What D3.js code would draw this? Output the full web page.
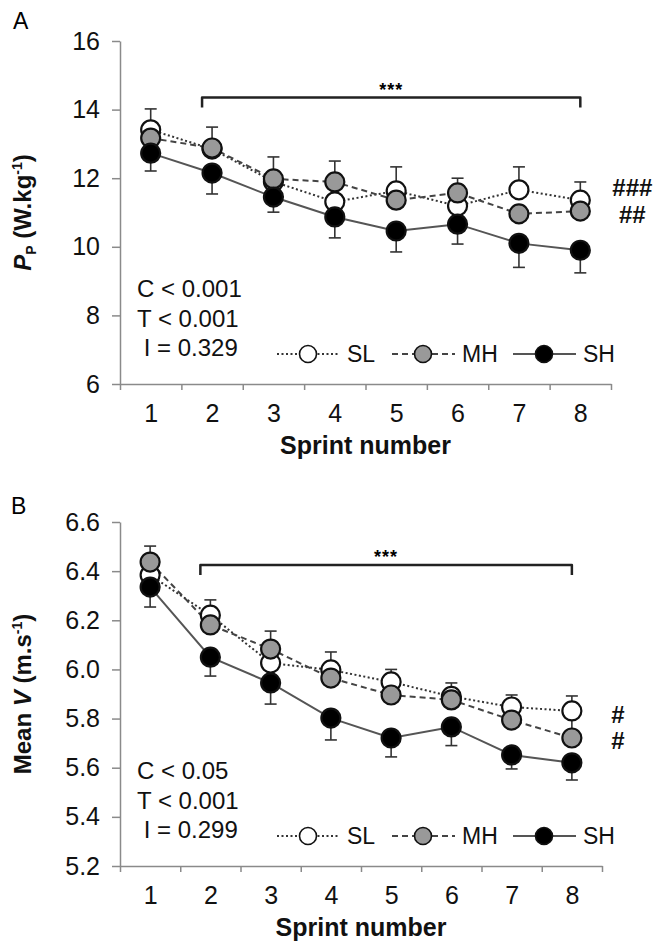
<!DOCTYPE html>
<html>
<head>
<meta charset="utf-8">
<script src="https://cdn.jsdelivr.net/npm/d3@7"></script>
<style>
body { margin: 0; background: #fff; }
svg { display: block; font-family: "Liberation Sans", Arial, sans-serif; }
</style>
</head>
<body>
<svg id="chart" width="666" height="945"></svg>
<script>
/*********************** DATA ***********************/

var sprints = [1, 2, 3, 4, 5, 6, 7, 8];
var seriesNames = ["SL", "MH", "SH"];

// panel A : peak power (W.kg-1)
var ppSL = [13.41, 12.85, 11.90, 11.31, 11.63, 11.19, 11.66, 11.36];
var ppMH = [13.17, 12.88, 11.98, 11.89, 11.36, 11.57, 10.96, 11.04];
var ppSH = [12.73, 12.15, 11.45, 10.87, 10.46, 10.66, 10.10, 9.90];
// visible SD bars (null = hidden behind a marker)
var ppSLup = [0.61, null, null, null, 0.70, null, 0.67, 0.53];
var ppMHup = [null, 0.61, 0.64, 0.61, null, 0.43, null, null];
var ppSHdown = [0.52, 0.61, 0.44, 0.61, 0.61, 0.58, 0.70, 0.66];
var ppTicks = [6, 8, 10, 12, 14, 16];
var ppStats = ["C < 0.001", "T < 0.001", "\u00a0I = 0.329"];
var ppSig = [{ text: "###", value: 11.74 }, { text: "##", value: 10.96 }];

// panel B : mean velocity (m.s-1)
var mvSL = [6.384, 6.221, 6.026, 5.998, 5.949, 5.890, 5.847, 5.831];
var mvMH = [6.437, 6.181, 6.083, 5.965, 5.896, 5.876, 5.794, 5.721];
var mvSH = [6.335, 6.050, 5.945, 5.802, 5.721, 5.766, 5.652, 5.620];
var mvSLup = [null, 0.062, null, 0.073, 0.051, 0.055, 0.049, 0.061];
var mvMHup = [0.065, null, 0.073, null, null, null, null, 0.11];
var mvSHdown = [0.081, 0.077, 0.086, 0.089, 0.077, 0.076, 0.057, 0.070];
var mvTicks = [5.2, 5.4, 5.6, 5.8, 6.0, 6.2, 6.4, 6.6];
var mvStats = ["C < 0.05", "T < 0.001", "\u00a0I = 0.299"];
var mvSig = [{ text: "#", value: 5.819 }, { text: "#", value: 5.713 }];

/*********************** STYLES ***********************/

var styles = {
    SL: { fill: "#fff", dash: "2,2.5", stroke: "#333" },
    MH: { fill: "#999", dash: "6,4", stroke: "#444" },
    SH: { fill: "#000", dash: null, stroke: "#555" }
};

var svg = d3.select("#chart");
svg.append("rect").attr("width", 666).attr("height", 945).attr("fill", "#fff");

function drawPanel(cfg) {
    var x = d3.scaleLinear().domain([0.5, 8.5]).range([cfg.left, cfg.right]);
    var y = d3.scaleLinear().domain(cfg.domain).range([cfg.bottom, cfg.top]);

    var g = svg.append("g");

    // panel letter
    g.append("text")
        .attr("x", cfg.letterX).attr("y", cfg.letterY)
        .attr("font-size", 23)
        .text(cfg.letter);

    // y axis
    var yAxis = d3.axisLeft(y)
        .tickValues(cfg.ticks)
        .tickSize(8)
        .tickSizeOuter(0)
        .tickPadding(12)
        .tickFormat(cfg.format);
    var ya = g.append("g")
        .attr("transform", "translate(" + cfg.left + ",0)")
        .call(yAxis);
    ya.selectAll("path, line").attr("stroke", "#8a8a8a").attr("stroke-width", 1.5);
    ya.selectAll("text").attr("font-size", 25).attr("fill", "#111")
        .attr("font-family", "Liberation Sans, Arial, sans-serif");

    // x axis : boundary ticks then labels
    var xTicks = d3.axisBottom(x)
        .tickValues(d3.range(0.5, 9, 1))
        .tickSize(6)
        .tickSizeOuter(0)
        .tickFormat("");
    var xa = g.append("g")
        .attr("transform", "translate(0," + cfg.bottom + ")")
        .call(xTicks);
    xa.selectAll("path, line").attr("stroke", "#8a8a8a").attr("stroke-width", 1.5);

    var xLabels = d3.axisBottom(x)
        .tickValues(sprints)
        .tickSize(0)
        .tickPadding(20)
        .tickFormat(d3.format("d"));
    var xl = g.append("g")
        .attr("transform", "translate(0," + cfg.bottom + ")")
        .call(xLabels);
    xl.select(".domain").remove();
    xl.selectAll("text").attr("font-size", 25).attr("fill", "#111")
        .attr("font-family", "Liberation Sans, Arial, sans-serif");

    // axis titles
    g.append("text")
        .attr("x", (cfg.left + cfg.right) / 2)
        .attr("y", cfg.bottom + 70)
        .attr("text-anchor", "middle")
        .attr("font-size", 25)
        .attr("font-weight", "bold")
        .attr("fill", "#111")
        .text("Sprint number");

    var yt = g.append("text")
        .attr("transform", "translate(31," + (cfg.top + cfg.bottom) / 2 + ") rotate(-90)")
        .attr("text-anchor", "middle")
        .attr("font-size", 24)
        .attr("font-weight", "bold")
        .attr("fill", "#111");
    cfg.title(yt);

    // significance bracket
    var bx0 = x(2) - 10, bx1 = x(8), by = y(cfg.bracket);
    g.append("path")
        .attr("d", "M" + bx0 + "," + (by + 10) + "V" + by + "H" + bx1 + "V" + (by + 10))
        .attr("fill", "none")
        .attr("stroke", "#222")
        .attr("stroke-width", 2.5)
        .attr("stroke-linejoin", "round");
    g.append("text")
        .attr("x", (bx0 + bx1) / 2)
        .attr("y", by - 2)
        .attr("text-anchor", "middle")
        .attr("font-size", 18)
        .attr("font-weight", "bold")
        .attr("letter-spacing", 1)
        .text("***");

    // series
    var data = {
        SL: { v: cfg.sl, up: cfg.slUp },
        MH: { v: cfg.mh, up: cfg.mhUp },
        SH: { v: cfg.sh, down: cfg.shDown }
    };

    var line = d3.line()
        .x(function(d, i) { return x(sprints[i]); })
        .y(function(d) { return y(d); });

    seriesNames.forEach(function(name) {
        g.append("path")
            .datum(data[name].v)
            .attr("d", line)
            .attr("fill", "none")
            .attr("stroke", styles[name].stroke)
            .attr("stroke-width", 2)
            .attr("stroke-dasharray", styles[name].dash);
    });

    // error bars
    seriesNames.forEach(function(name) {
        var s = data[name];
        var err = s.up || s.down;
        var sign = s.up ? 1 : -1;
        sprints.forEach(function(sp, i) {
            if (err[i] == null) return;
            var cx = x(sp), y0 = y(s.v[i]), y1 = y(s.v[i] + sign * err[i]);
            g.append("line")
                .attr("x1", cx).attr("x2", cx).attr("y1", y0).attr("y2", y1)
                .attr("stroke", "#333").attr("stroke-width", 1.6);
            g.append("line")
                .attr("x1", cx - 6).attr("x2", cx + 6).attr("y1", y1).attr("y2", y1)
                .attr("stroke", "#333").attr("stroke-width", 1.6);
        });
    });

    // markers
    seriesNames.forEach(function(name) {
        g.selectAll(null)
            .data(data[name].v)
            .enter().append("circle")
            .attr("cx", function(d, i) { return x(sprints[i]); })
            .attr("cy", function(d) { return y(d); })
            .attr("r", 9.5)
            .attr("fill", styles[name].fill)
            .attr("stroke", "#111")
            .attr("stroke-width", 2.2);
    });

    // # labels beside last sprint
    cfg.sig.forEach(function(s) {
        g.append("text")
            .attr("x", x(8) + cfg.sigDx)
            .attr("y", y(s.value))
            .attr("dy", "0.36em")
            .attr("text-anchor", "middle")
            .attr("font-size", 24)
            .attr("font-weight", "bold")
            .attr("fill", "#111")
            .text(s.text);
    });

    // statistics
    cfg.stats.forEach(function(t, i) {
        g.append("text")
            .attr("x", 137)
            .attr("y", cfg.bottom - 87 + i * 29.5)
            .attr("font-size", 24)
            .attr("fill", "#111")
            .text(t);
    });

    // legend
    var ly = cfg.bottom - 30;
    var lx = [cfg.left + 157, cfg.left + 272, cfg.left + 393];
    seriesNames.forEach(function(name, i) {
        g.append("line")
            .attr("x1", lx[i]).attr("x2", lx[i] + 63)
            .attr("y1", ly).attr("y2", ly)
            .attr("stroke", styles[name].stroke)
            .attr("stroke-width", 2)
            .attr("stroke-dasharray", styles[name].dash);
        g.append("circle")
            .attr("cx", lx[i] + 31).attr("cy", ly).attr("r", 8.5)
            .attr("fill", styles[name].fill)
            .attr("stroke", "#111").attr("stroke-width", 1.6);
        g.append("text")
            .attr("x", lx[i] + 70).attr("y", ly)
            .attr("dy", "0.36em")
            .attr("font-size", 23)
            .attr("fill", "#111")
            .text(name);
    });
}

drawPanel({
    letter: "A", letterX: 13, letterY: 29,
    left: 120, right: 611, top: 41, bottom: 384,
    domain: [6, 16], ticks: ppTicks, format: d3.format("d"),
    sl: ppSL, mh: ppMH, sh: ppSH,
    slUp: ppSLup, mhUp: ppMHup, shDown: ppSHdown,
    bracket: 14.35, stats: ppStats, sig: ppSig, sigDx: 52,
    title: function(t) {
        t.append("tspan").attr("font-style", "italic").text("P");
        t.append("tspan").attr("font-size", 14).attr("dy", 5).text("P");
        t.append("tspan").attr("dy", -5).text(" (W.kg");
        t.append("tspan").attr("font-size", 14).attr("dy", -9).text("-1");
        t.append("tspan").attr("dy", 9).text(")");
    }
});

drawPanel({
    letter: "B", letterX: 11, letterY: 514,
    left: 120, right: 602, top: 522, bottom: 866,
    domain: [5.2, 6.6], ticks: mvTicks, format: d3.format(".1f"),
    sl: mvSL, mh: mvMH, sh: mvSH,
    slUp: mvSLup, mhUp: mvMHup, shDown: mvSHdown,
    bracket: 6.425, stats: mvStats, sig: mvSig, sigDx: 46,
    title: function(t) {
        t.append("tspan").text("Mean ");
        t.append("tspan").attr("font-style", "italic").text("V");
        t.append("tspan").text(" (m.s");
        t.append("tspan").attr("font-size", 14).attr("dy", -9).text("-1");
        t.append("tspan").attr("dy", 9).text(")");
    }
});
</script>
</body>
</html>
